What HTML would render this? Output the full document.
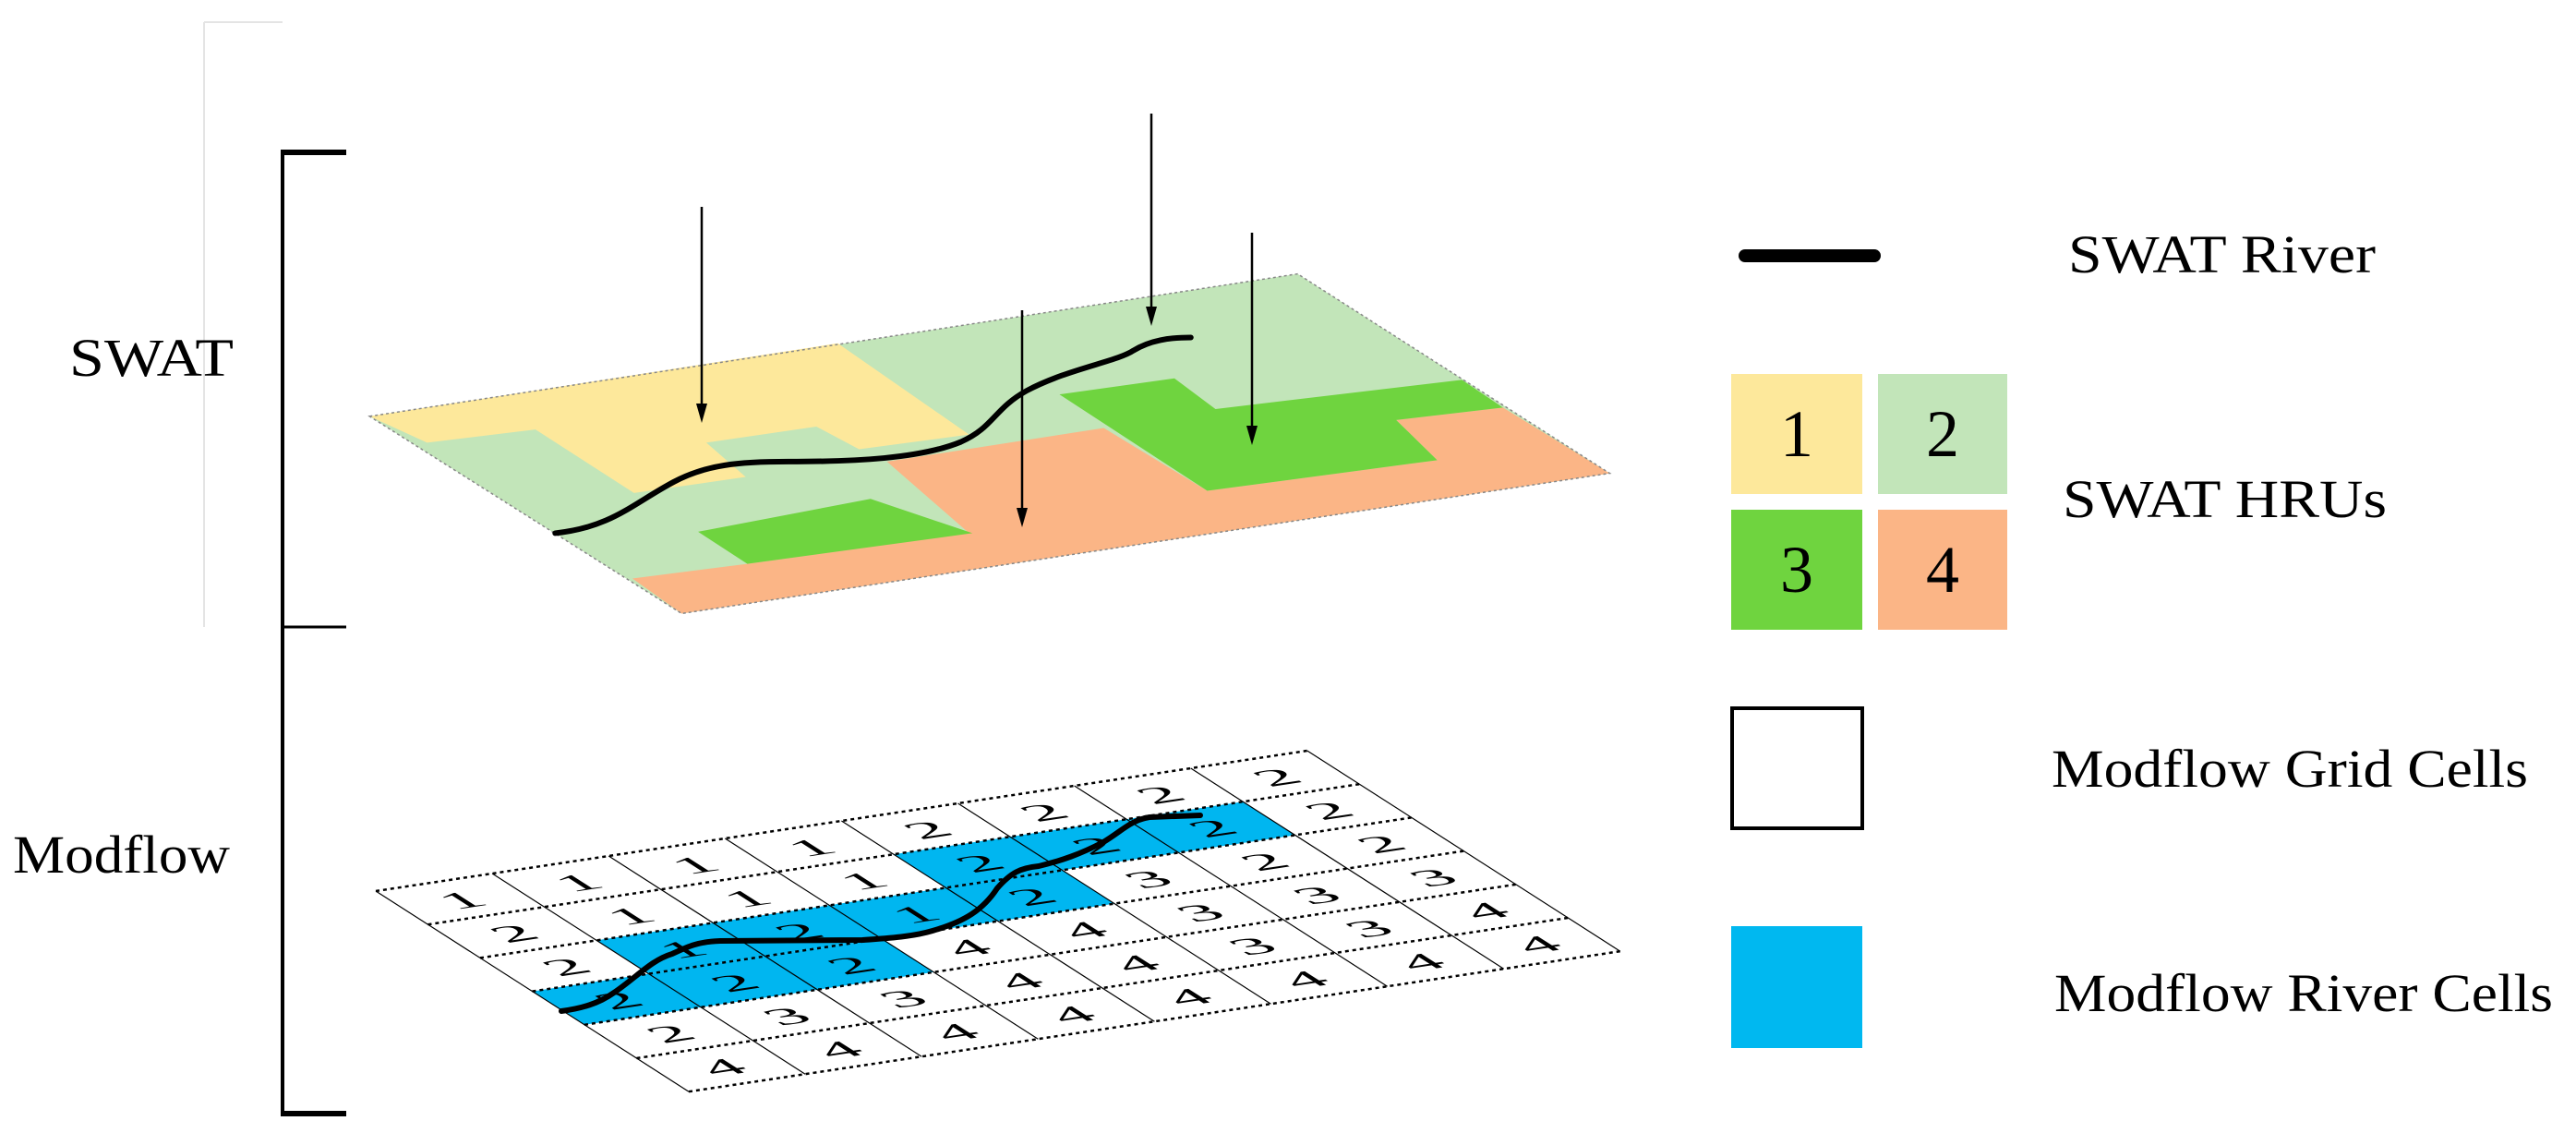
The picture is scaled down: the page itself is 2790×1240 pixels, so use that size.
<!DOCTYPE html>
<html><head><meta charset="utf-8"><style>
html,body{margin:0;padding:0;background:#fff;}
svg{display:block;}
text{font-family:"Liberation Serif",serif;fill:#000;}
</style></head><body>
<svg width="2790" height="1240" viewBox="0 0 2790 1240" xmlns="http://www.w3.org/2000/svg">
<path d="M221 24 V679 M221 24 H306" stroke="#e4e4e4" stroke-width="2" fill="none"/>
<path d="M306 165 V1206" stroke="#000" stroke-width="4" fill="none"/>
<path d="M304 165 H375" stroke="#000" stroke-width="6"/>
<path d="M304 679 H375" stroke="#000" stroke-width="3"/>
<path d="M304 1206 H375" stroke="#000" stroke-width="6"/>
<text x="75" y="407" font-size="58" textLength="178" lengthAdjust="spacingAndGlyphs">SWAT</text>
<text x="14" y="945" font-size="58" textLength="235" lengthAdjust="spacingAndGlyphs">Modflow</text>

<g transform="scale(1.779,0.791)">
  <polygon points="225,570 790,375 980,648 415,840" fill="#c2e5b9"/>
  <polygon points="225,570 510,470 590,595 523,615 497,584 430,606 454,653 386,675 326,588 260,606" fill="#fde89b"/>
  <polygon points="540,632 672,586 735,672 875,630 850,575 915,558 980,648 415,840 385,792 455,772 590,730" fill="#fbb586"/>
  <polygon points="645,540 715,518 740,560 890,520 915,558 850,575 875,630 735,672" fill="#6fd43f"/>
  <polygon points="425,728 530,683 592,730 455,772" fill="#6fd43f"/>
  <polygon points="225,570 790,375 980,648 415,840" fill="none" stroke="#888" stroke-width="1.5" stroke-dasharray="3 3" vector-effect="non-scaling-stroke"/>
  <path d="M338,730 C372,722 385,690 410,660 C430,636 450,632 480,632 C520,632 560,628 585,605 C605,585 605,560 625,535 C650,505 680,495 690,480 C700,466 712,462 725,462" fill="none" stroke="#000" stroke-width="6" stroke-linecap="round" vector-effect="non-scaling-stroke"/>
</g>
<g stroke="#000" stroke-width="2.5">
  <line x1="760" y1="224" x2="760" y2="440"/>
  <line x1="1247" y1="123" x2="1247" y2="335"/>
  <line x1="1107" y1="336" x2="1107" y2="553"/>
  <line x1="1356" y1="252" x2="1356" y2="464"/>
</g>
<g fill="#000">
  <polygon points="754,437 766,437 760,458"/>
  <polygon points="1241,332 1253,332 1247,353"/>
  <polygon points="1101,550 1113,550 1107,571"/>
  <polygon points="1350,461 1362,461 1356,482"/>
</g>

<g transform="matrix(126.1,-19,56.5,36.2,407,965)">
  <polygon points="0,0 8,0 8,6 0,6" fill="#fff"/>
  <g fill="#00b6f0">
    <rect x="4" y="1" width="3" height="1"/>
    <rect x="1" y="2" width="4" height="1"/>
    <rect x="0" y="3" width="3" height="1"/>
  </g>
  <g stroke="#000" stroke-width="1.2">
    <line x1="0" y1="0" x2="0" y2="6" vector-effect="non-scaling-stroke"/>
    <line x1="1" y1="0" x2="1" y2="6" vector-effect="non-scaling-stroke"/>
    <line x1="2" y1="0" x2="2" y2="6" vector-effect="non-scaling-stroke"/>
    <line x1="3" y1="0" x2="3" y2="6" vector-effect="non-scaling-stroke"/>
    <line x1="4" y1="0" x2="4" y2="6" vector-effect="non-scaling-stroke"/>
    <line x1="5" y1="0" x2="5" y2="6" vector-effect="non-scaling-stroke"/>
    <line x1="6" y1="0" x2="6" y2="6" vector-effect="non-scaling-stroke"/>
    <line x1="7" y1="0" x2="7" y2="6" vector-effect="non-scaling-stroke"/>
    <line x1="8" y1="0" x2="8" y2="6" vector-effect="non-scaling-stroke"/>
  </g>
  <g font-size="0.62" text-anchor="middle" style="font-family:'Liberation Serif',serif">
    <text x="0.5" y="0.74">1</text><text x="1.5" y="0.74">1</text><text x="2.5" y="0.74">1</text><text x="3.5" y="0.74">1</text><text x="4.5" y="0.74">2</text><text x="5.5" y="0.74">2</text><text x="6.5" y="0.74">2</text><text x="7.5" y="0.74">2</text>
    <text x="0.5" y="1.74">2</text><text x="1.5" y="1.74">1</text><text x="2.5" y="1.74">1</text><text x="3.5" y="1.74">1</text><text x="4.5" y="1.74">2</text><text x="5.5" y="1.74">2</text><text x="6.5" y="1.74">2</text><text x="7.5" y="1.74">2</text>
    <text x="0.5" y="2.74">2</text><text x="1.5" y="2.74">1</text><text x="2.5" y="2.74">2</text><text x="3.5" y="2.74">1</text><text x="4.5" y="2.74">2</text><text x="5.5" y="2.74">3</text><text x="6.5" y="2.74">2</text><text x="7.5" y="2.74">2</text>
    <text x="0.5" y="3.74">2</text><text x="1.5" y="3.74">2</text><text x="2.5" y="3.74">2</text><text x="3.5" y="3.74">4</text><text x="4.5" y="3.74">4</text><text x="5.5" y="3.74">3</text><text x="6.5" y="3.74">3</text><text x="7.5" y="3.74">3</text>
    <text x="0.5" y="4.74">2</text><text x="1.5" y="4.74">3</text><text x="2.5" y="4.74">3</text><text x="3.5" y="4.74">4</text><text x="4.5" y="4.74">4</text><text x="5.5" y="4.74">3</text><text x="6.5" y="4.74">3</text><text x="7.5" y="4.74">4</text>
    <text x="0.5" y="5.74">4</text><text x="1.5" y="5.74">4</text><text x="2.5" y="5.74">4</text><text x="3.5" y="5.74">4</text><text x="4.5" y="5.74">4</text><text x="5.5" y="5.74">4</text><text x="6.5" y="5.74">4</text><text x="7.5" y="5.74">4</text>
  </g>
</g>
<g stroke="#000" stroke-width="2.5" stroke-dasharray="4 4">
  <line x1="407" y1="965" x2="1415.8" y2="813"/>
  <line x1="463.5" y1="1001.2" x2="1472.3" y2="849.2"/>
  <line x1="520" y1="1037.4" x2="1528.8" y2="885.4"/>
  <line x1="576.5" y1="1073.6" x2="1585.3" y2="921.6"/>
  <line x1="633" y1="1109.8" x2="1641.8" y2="957.8"/>
  <line x1="689.5" y1="1146" x2="1698.3" y2="994"/>
  <line x1="746" y1="1182.2" x2="1754.8" y2="1030.2"/>
</g>
<path d="M608,1095 C630,1092 648,1087 665,1075 C690,1058 705,1040 728,1033 C745,1025 755,1020 780,1019 L934,1018 C965,1016 990,1014 1010,1008 C1045,998 1065,985 1080,962 C1095,945 1105,940 1125,938 C1150,932 1170,925 1195,912 C1215,900 1225,888 1245,885 L1300,883" fill="none" stroke="#000" stroke-width="6" stroke-linecap="round"/>

<line x1="1890" y1="277" x2="2030" y2="277" stroke="#000" stroke-width="14" stroke-linecap="round"/>
<text x="2240" y="295" font-size="58" textLength="333" lengthAdjust="spacingAndGlyphs">SWAT River</text>
<rect x="1875" y="405" width="142" height="130" fill="#fde89b"/>
<rect x="2034" y="405" width="140" height="130" fill="#c2e5b9"/>
<rect x="1875" y="552" width="142" height="130" fill="#6fd43f"/>
<rect x="2034" y="552" width="140" height="130" fill="#fbb586"/>
<g font-size="72" text-anchor="middle">
  <text x="1946" y="494">1</text><text x="2104" y="494">2</text>
  <text x="1946" y="641">3</text><text x="2104" y="641">4</text>
</g>
<text x="2234" y="560" font-size="58" textLength="351" lengthAdjust="spacingAndGlyphs">SWAT HRUs</text>
<rect x="1876" y="767" width="141" height="130" fill="#fff" stroke="#000" stroke-width="4"/>
<text x="2222" y="852" font-size="58" textLength="516" lengthAdjust="spacingAndGlyphs">Modflow Grid Cells</text>
<rect x="1875" y="1003" width="142" height="132" fill="#00b8f0"/>
<text x="2225" y="1095" font-size="58" textLength="540" lengthAdjust="spacingAndGlyphs">Modflow River Cells</text>
</svg>
</body></html>
